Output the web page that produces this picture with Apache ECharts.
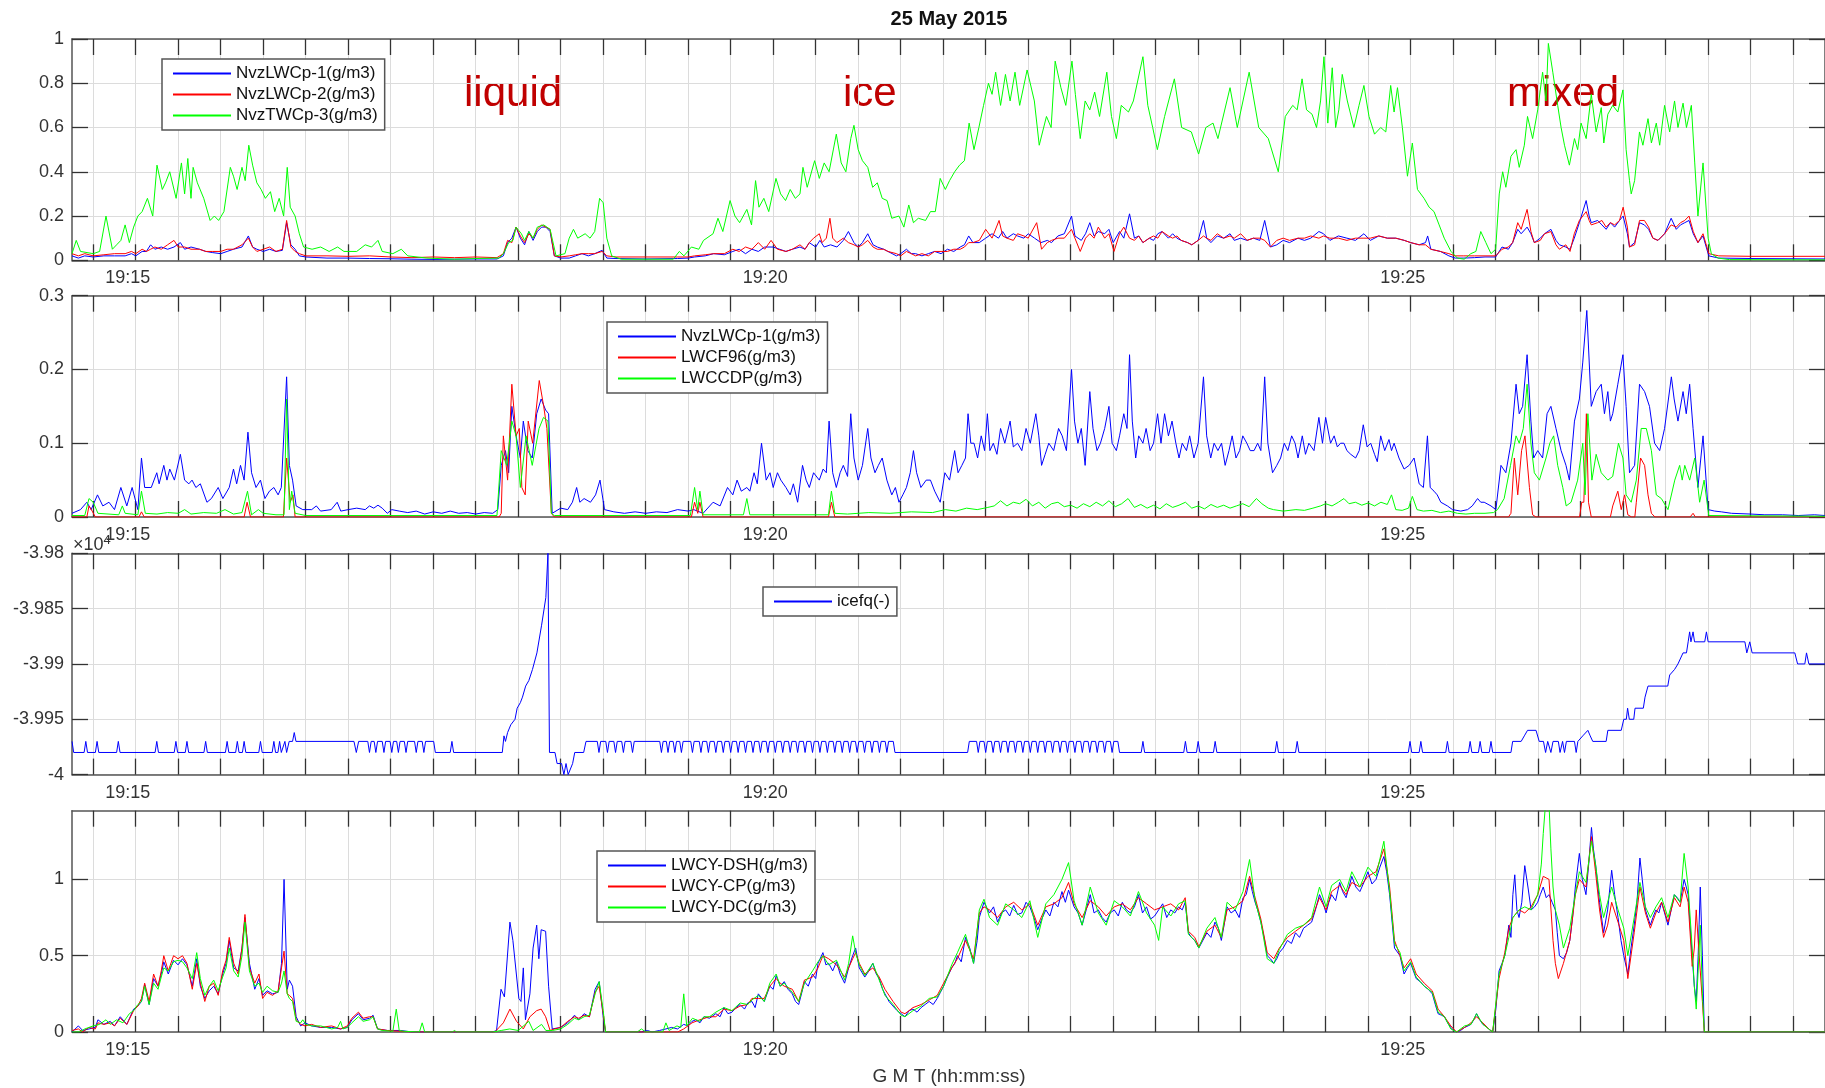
<!DOCTYPE html>
<html>
<head>
<meta charset="utf-8">
<script src="https://cdn.jsdelivr.net/npm/echarts@6/dist/echarts.min.js"></script>
<style>html,body{margin:0;padding:0;background:#fff}#c{width:1825px;height:1088px}</style>
</head>
<body>
<div id="c"></div>
<script>
// time in seconds relative to 19:15:00
const xTickValues = [-20,0,20,40,60,80,100,120,140,160,180,200,220,240,260,280,300,320,340,360,380,400,420,440,460,480,500,520,540,560,580,600,620,640,660,680,700,720,740,760,780];
const xLabelValues = [0,300,600];

// Panel 1
const p1Blue = [[-30,0.02],[-27,0.01],[-24,0.02],[-20,0.015],[-15,0.02],[-10,0.02],[-5,0.02],[-2,0.03],[0,0.02],[3,0.04],[5,0.04],[7,0.07],[9,0.05],[12,0.06],[15,0.05],[18,0.06],[21,0.08],[23,0.05],[26,0.06],[30,0.05],[33,0.04],[36,0.035],[40,0.03],[43,0.04],[46,0.05],[50,0.06],[53,0.11],[55,0.06],[57,0.05],[60,0.04],[63,0.05],[66,0.04],[69,0.045],[71,0.17],[73,0.07],[75,0.05],[77,0.02],[80,0.015],[90,0.01],[100,0.01],[110,0.008],[120,0.007],[130,0.005],[140,0.004],[150,0.005],[160,0.006],[170,0.006],[173,0.02],[175,0.08],[177,0.1],[179,0.15],[181,0.1],[183,0.07],[185,0.13],[187,0.09],[189,0.13],[191,0.15],[193,0.15],[195,0.13],[197,0.02],[200,0.01],[204,0.01],[207,0.02],[210,0.03],[213,0.02],[216,0.03],[219.5,0.045],[221.7,0.01],[226,0.008],[240,0.006],[255,0.008],[260,0.01],[263,0.015],[268,0.02],[272,0.03],[277,0.025],[281,0.04],[284,0.05],[287,0.03],[290,0.05],[293,0.04],[296,0.06],[300,0.06],[303,0.05],[306,0.04],[309,0.05],[312.6,0.06],[315,0.05],[317,0.08],[320,0.06],[322,0.09],[324,0.06],[327,0.07],[330,0.06],[333,0.09],[335.4,0.13],[338,0.08],[340,0.06],[342,0.08],[344.5,0.12],[347,0.07],[349,0.06],[352,0.05],[354,0.04],[358,0.02],[360,0.03],[362.7,0.05],[365,0.03],[367,0.03],[370,0.02],[373,0.03],[376,0.04],[379,0.03],[382,0.05],[385,0.04],[388,0.06],[390,0.07],[392,0.11],[394,0.08],[397,0.08],[400,0.1],[403,0.12],[406,0.1],[408,0.13],[410,0.1],[413,0.12],[415,0.11],[418,0.1],[420,0.12],[423,0.1],[426,0.08],[429,0.09],[431,0.08],[434,0.11],[437,0.12],[440.4,0.2],[442,0.11],[445,0.09],[447,0.12],[449,0.17],[451,0.11],[453,0.13],[456,0.12],[458,0.14],[460,0.08],[463,0.13],[465,0.1],[467.7,0.21],[470,0.1],[472,0.11],[474,0.08],[477,0.1],[479,0.09],[481,0.12],[483,0.13],[486,0.1],[488,0.12],[490,0.1],[492,0.09],[495,0.08],[497,0.07],[500,0.09],[502.5,0.18],[504,0.1],[506,0.08],[509,0.11],[512,0.1],[515,0.12],[517,0.09],[520,0.1],[523,0.09],[526,0.1],[529,0.09],[531.3,0.18],[534,0.06],[537,0.07],[540,0.09],[543,0.08],[547,0.1],[550,0.09],[553,0.1],[556.8,0.13],[559,0.12],[562,0.09],[566,0.11],[570,0.1],[574,0.09],[578,0.12],[581,0.09],[585,0.11],[589,0.1],[593,0.1],[597,0.09],[600,0.08],[604,0.07],[607,0.08],[608,0.11],[609.5,0.05],[614,0.04],[618,0.02],[621,0.01],[625,0.01],[630,0.012],[635,0.015],[640,0.015],[643,0.06],[646,0.05],[648,0.08],[650.4,0.14],[652,0.12],[654.8,0.15],[656.6,0.12],[658.2,0.08],[661,0.1],[663,0.12],[666,0.14],[668.4,0.09],[670,0.07],[673,0.06],[675,0.05],[677,0.1],[679.4,0.17],[682.6,0.27],[684,0.2],[685,0.17],[688,0.18],[690,0.16],[692,0.14],[694,0.17],[696,0.15],[698.3,0.18],[700,0.2],[702,0.12],[703,0.06],[705.4,0.08],[707.7,0.17],[710,0.16],[712,0.14],[714,0.1],[716.4,0.09],[719.5,0.12],[722.6,0.19],[725,0.14],[727,0.16],[729,0.17],[731,0.18],[733,0.12],[735.2,0.08],[737.6,0.11],[740.3,0.02],[745,0.01],[760,0.008],[795,0.006]];
const p1Red = [[-30,0.03],[-27,0.02],[-24,0.03],[-20,0.02],[-15,0.025],[-10,0.03],[-5,0.03],[-2,0.04],[0,0.03],[3,0.05],[5,0.04],[7,0.05],[9,0.06],[12,0.05],[15,0.07],[18,0.09],[20,0.06],[23,0.06],[26,0.05],[30,0.05],[33,0.04],[36,0.04],[40,0.04],[43,0.05],[46,0.05],[50,0.07],[53,0.1],[55,0.06],[57,0.04],[60,0.05],[63,0.06],[66,0.04],[69,0.05],[71,0.18],[73,0.06],[75,0.04],[77,0.03],[80,0.02],[90,0.02],[100,0.018],[110,0.02],[120,0.015],[130,0.012],[140,0.015],[150,0.012],[160,0.015],[170,0.012],[173,0.03],[175,0.09],[177,0.08],[179,0.15],[181,0.11],[183,0.08],[185,0.12],[187,0.1],[189,0.14],[191,0.16],[193,0.15],[195,0.14],[197,0.02],[200,0.015],[204,0.02],[207,0.025],[210,0.03],[213,0.03],[216,0.03],[219.5,0.04],[221.7,0.02],[226,0.015],[240,0.015],[255,0.015],[260,0.015],[263,0.02],[268,0.025],[272,0.03],[277,0.03],[281,0.05],[284,0.04],[287,0.06],[290,0.05],[293,0.08],[296,0.05],[299,0.09],[302,0.05],[306,0.04],[309,0.05],[312.6,0.07],[315,0.05],[317,0.08],[319,0.1],[321.7,0.12],[323,0.08],[325,0.1],[326.7,0.19],[328,0.1],[330,0.08],[333,0.1],[335.4,0.08],[338,0.07],[340,0.06],[342,0.07],[344.5,0.09],[347,0.06],[349,0.05],[352,0.05],[354,0.04],[358,0.03],[360,0.02],[362.7,0.04],[365,0.03],[367,0.02],[370,0.03],[373,0.02],[376,0.04],[379,0.04],[382,0.04],[385,0.05],[388,0.05],[390,0.06],[392,0.08],[394,0.08],[397,0.09],[400,0.14],[403,0.1],[406.3,0.18],[408,0.11],[410,0.1],[413,0.09],[415,0.12],[418,0.11],[420,0.1],[424,0.17],[426.3,0.05],[429,0.08],[431,0.09],[434,0.1],[437,0.1],[440.4,0.14],[442,0.1],[444.5,0.04],[447,0.1],[449,0.12],[451,0.1],[453,0.15],[456,0.1],[458,0.12],[460.4,0.04],[463,0.12],[465,0.15],[467.7,0.1],[470,0.09],[472,0.11],[474,0.08],[477,0.1],[479,0.11],[481,0.1],[483,0.13],[486,0.11],[488,0.1],[490,0.11],[492,0.09],[495,0.08],[497,0.07],[500,0.09],[502.5,0.11],[504,0.1],[506,0.09],[509,0.12],[512,0.1],[515,0.11],[517,0.1],[520,0.12],[523,0.09],[526,0.1],[529,0.1],[531.3,0.09],[534,0.06],[537,0.09],[540,0.1],[543,0.09],[547,0.1],[550,0.1],[553,0.11],[556.8,0.1],[559,0.11],[562,0.1],[566,0.1],[570,0.09],[574,0.1],[578,0.1],[581,0.1],[585,0.11],[589,0.1],[593,0.1],[597,0.09],[600,0.08],[604,0.07],[607,0.07],[609.5,0.05],[614,0.04],[618,0.03],[621,0.02],[625,0.02],[630,0.02],[635,0.02],[640,0.02],[643,0.05],[646,0.06],[648,0.08],[650.4,0.17],[652,0.14],[654.8,0.23],[656.6,0.13],[658.2,0.08],[661,0.09],[663,0.12],[666,0.13],[668.4,0.07],[670,0.05],[673,0.07],[675,0.04],[677,0.12],[679.4,0.18],[682.6,0.22],[684,0.18],[685,0.16],[688,0.17],[690,0.18],[692,0.15],[694,0.17],[696,0.16],[698.3,0.18],[700,0.24],[702,0.15],[703,0.06],[705.4,0.07],[707.7,0.18],[710,0.18],[712,0.15],[714,0.1],[716.4,0.09],[719.5,0.12],[722.6,0.16],[725,0.15],[727,0.17],[729,0.18],[731,0.2],[733,0.13],[735.2,0.08],[737.6,0.12],[740.3,0.03],[745,0.02],[760,0.018],[795,0.018]];
const p1Green = [[-30,0.03],[-28,0.09],[-26,0.04],[-20,0.03],[-17,0.04],[-14,0.2],[-11,0.05],[-9,0.07],[-7,0.09],[-5,0.16],[-3,0.08],[-1,0.15],[1,0.2],[3,0.22],[5.5,0.28],[8,0.2],[10,0.43],[12.5,0.32],[14,0.35],[16,0.4],[19,0.28],[21.5,0.44],[23,0.3],[24.5,0.46],[26,0.28],[27,0.42],[29,0.35],[32,0.28],[35,0.18],[37,0.2],[39,0.18],[41.5,0.22],[44.5,0.42],[46,0.38],[47.7,0.32],[50,0.42],[51.5,0.36],[53.2,0.52],[55,0.43],[57,0.35],[59,0.32],[61,0.28],[63.4,0.31],[65.4,0.22],[67.5,0.28],[69.6,0.2],[71.3,0.42],[72.7,0.24],[75,0.2],[77,0.12],[79,0.06],[83,0.05],[87,0.06],[91,0.04],[95,0.06],[98,0.04],[104,0.04],[108,0.07],[111,0.06],[114,0.09],[116,0.04],[121,0.03],[125,0.05],[128,0.02],[137,0.01],[150,0.005],[160,0.008],[171,0.01],[173,0.03],[175.5,0.08],[177.5,0.09],[179,0.15],[181.5,0.12],[183,0.09],[185,0.13],[187,0.1],[189,0.15],[192,0.16],[195,0.14],[197.8,0.02],[202,0.03],[204,0.1],[206,0.14],[208,0.1],[211.5,0.12],[213.8,0.1],[216,0.13],[218.3,0.28],[220,0.26],[221.7,0.1],[224,0.02],[228.5,0.005],[253,0.005],[255.8,0.04],[258,0.02],[261.5,0.06],[265,0.05],[267.2,0.09],[271.7,0.12],[274,0.19],[276.3,0.13],[279.7,0.27],[282,0.2],[284.2,0.17],[287.6,0.23],[289.8,0.16],[291.7,0.36],[293.3,0.24],[295.6,0.28],[297.9,0.22],[301.3,0.37],[303.5,0.3],[305.8,0.27],[308,0.32],[310.4,0.28],[312.6,0.3],[314,0.42],[316,0.33],[319.5,0.45],[321.7,0.37],[324,0.44],[326.3,0.4],[329.7,0.57],[332,0.44],[334.2,0.4],[336.5,0.55],[338,0.61],[340,0.5],[342,0.45],[344.5,0.42],[346.8,0.33],[349,0.35],[351.3,0.28],[353.6,0.27],[355.8,0.19],[359.2,0.2],[361.5,0.15],[363.8,0.25],[366,0.17],[368.3,0.19],[371.7,0.18],[374,0.22],[376.3,0.22],[378.6,0.37],[381,0.32],[383,0.36],[385.4,0.4],[387.7,0.43],[390,0.45],[392.2,0.62],[394.5,0.5],[396.8,0.6],[399,0.7],[401.3,0.8],[403,0.75],[404.7,0.85],[407,0.7],[409.3,0.84],[411.5,0.72],[413.8,0.85],[416,0.7],[419.5,0.86],[422.9,0.72],[425.2,0.52],[428.6,0.65],[430.8,0.6],[432.7,0.9],[435.4,0.78],[437.7,0.7],[440.6,0.9],[442.2,0.75],[444.5,0.55],[446.8,0.72],[449,0.68],[451.3,0.76],[453.6,0.65],[457,0.85],[459.2,0.65],[461.5,0.55],[463.8,0.7],[467.2,0.67],[469.5,0.72],[474,0.92],[476.3,0.7],[478.6,0.6],[480.8,0.5],[484.2,0.65],[488.8,0.82],[492.2,0.6],[496.8,0.58],[500.2,0.48],[503.6,0.6],[507,0.62],[509.3,0.55],[515,0.78],[518.4,0.6],[524,0.85],[528.5,0.6],[533,0.55],[537.7,0.4],[541,0.65],[544.5,0.7],[546.6,0.68],[548.9,0.82],[551,0.68],[553.6,0.66],[555.7,0.6],[557.6,0.72],[559.2,0.92],[561,0.62],[563.1,0.87],[564.7,0.6],[566.2,0.68],[567.8,0.84],[570.2,0.72],[573.3,0.6],[575.7,0.7],[578,0.79],[580.4,0.65],[583,0.57],[585.9,0.6],[588.3,0.58],[590.6,0.79],[592.2,0.67],[593.8,0.78],[596.1,0.6],[598.5,0.38],[600.8,0.53],[603.2,0.32],[606.3,0.28],[608.7,0.24],[611,0.22],[613.4,0.16],[615.8,0.1],[619,0.04],[622,0.01],[625.2,0.005],[628.3,0.03],[630.7,0.04],[633,0.13],[635.4,0.08],[637.8,0.03],[640,0.05],[641.7,0.3],[643.3,0.4],[644.8,0.33],[647.2,0.47],[649.6,0.5],[651.1,0.42],[653.5,0.52],[655,0.65],[657.4,0.55],[659.8,0.68],[662.1,0.85],[663.7,0.72],[664.8,0.98],[666.9,0.85],[669.2,0.7],[670.8,0.6],[672.4,0.52],[674.7,0.43],[677.1,0.55],[678.6,0.5],[680.2,0.62],[682.6,0.55],[685,0.75],[687.3,0.58],[689.7,0.69],[690.9,0.53],[692.8,0.66],[695.1,0.7],[697.5,0.67],[699.9,0.77],[701.4,0.5],[703,0.36],[703.8,0.3],[705.4,0.36],[707.7,0.58],[709.3,0.52],[711.7,0.64],[713.3,0.53],[715.6,0.62],[717.2,0.52],[719.5,0.7],[721.9,0.58],[724.2,0.72],[725.8,0.6],[728.2,0.71],[729.8,0.6],[732.1,0.7],[733.7,0.44],[735.2,0.2],[737.6,0.44],[740,0.1],[741.5,0.03],[744.7,0.01],[750,0.003],[795,0.002]];

// Panel 2
const p2Blue = [[-30,0.005],[-26,0.01],[-23,0.02],[-21,0.01],[-18,0.03],[-15.5,0.015],[-12.6,0.02],[-10,0.01],[-7,0.04],[-4.2,0.015],[-1.7,0.04],[1,0.01],[2.7,0.08],[4.2,0.04],[7.3,0.04],[9.9,0.06],[11,0.045],[13.2,0.07],[14.7,0.05],[16,0.065],[18.2,0.05],[21,0.085],[23,0.05],[25,0.045],[26.5,0.05],[28.3,0.04],[30.4,0.045],[33.5,0.02],[35.6,0.025],[38.8,0.04],[41,0.025],[44,0.04],[46,0.065],[47.5,0.045],[49.3,0.07],[51,0.05],[52.8,0.115],[54.5,0.06],[56.6,0.04],[58.7,0.05],[60.8,0.025],[62.9,0.035],[65,0.04],[67,0.03],[68.5,0.04],[71,0.19],[72.3,0.07],[73.8,0.05],[75.5,0.015],[78.6,0.01],[82.8,0.01],[85,0.015],[87,0.008],[92,0.01],[94.8,0.02],[96.5,0.008],[100,0.01],[104,0.012],[108,0.01],[110,0.015],[112,0.012],[114,0.016],[116,0.012],[118.4,0.005],[120.5,0.01],[124,0.008],[128,0.006],[132,0.008],[136,0.004],[140,0.007],[144,0.005],[148,0.008],[152,0.005],[156,0.006],[160,0.004],[164,0.006],[168,0.005],[170.4,0.01],[172,0.07],[174,0.09],[175.5,0.06],[177,0.15],[179,0.11],[181,0.08],[182.4,0.13],[184.5,0.09],[186.6,0.08],[188.7,0.14],[190.8,0.16],[192.9,0.145],[194.3,0.14],[196,0.005],[200,0.012],[203.3,0.01],[205.5,0.02],[207.5,0.04],[209,0.02],[211,0.025],[214,0.02],[216.4,0.03],[218.5,0.05],[220.6,0.01],[225,0.007],[230,0.005],[235,0.007],[240,0.005],[245,0.007],[250,0.006],[255,0.01],[260,0.008],[262.6,0.01],[267,0.005],[271.7,0.02],[275,0.015],[278.5,0.04],[281,0.03],[283,0.05],[285,0.035],[287.6,0.04],[289,0.035],[291,0.06],[292.5,0.045],[294.5,0.1],[296.7,0.05],[298.5,0.06],[300,0.04],[302,0.06],[303.6,0.05],[306,0.04],[308,0.03],[309.5,0.045],[311.5,0.02],[313.8,0.07],[315.5,0.05],[317,0.04],[319,0.06],[321.7,0.05],[323.5,0.065],[325,0.06],[326.3,0.13],[328,0.06],[329.7,0.04],[331.5,0.06],[333,0.07],[335,0.055],[336.5,0.14],[338,0.08],[340,0.05],[342,0.07],[344.5,0.12],[346,0.08],[347.9,0.06],[349.5,0.07],[351.3,0.08],[353.5,0.05],[355.8,0.03],[357.5,0.04],[359.2,0.02],[361,0.03],[362.7,0.04],[364.5,0.06],[366,0.09],[367.5,0.06],[369.5,0.04],[372,0.05],[374,0.05],[376,0.035],[378.6,0.02],[380.8,0.06],[383,0.05],[385.4,0.09],[387,0.06],[388.8,0.07],[390.5,0.08],[391.7,0.14],[393,0.1],[394.5,0.1],[396.2,0.08],[397.9,0.11],[399.5,0.09],[400.8,0.14],[402,0.09],[403.6,0.1],[405.3,0.085],[407,0.12],[409,0.1],[411.5,0.13],[413,0.095],[415,0.1],[417,0.09],[419,0.12],[421,0.1],[423.6,0.14],[425,0.11],[426.3,0.07],[428,0.085],[429.7,0.1],[432,0.09],[434.3,0.12],[436,0.11],[438,0.09],[440.4,0.2],[441.8,0.13],[443.4,0.1],[445,0.12],[446.8,0.07],[449,0.17],[450.5,0.12],[452.4,0.09],[454,0.1],[456,0.12],[458,0.15],[459.5,0.1],[461.5,0.09],[463,0.11],[465,0.14],[466.5,0.12],[467.7,0.22],[469,0.13],[470.6,0.08],[472,0.11],[474,0.1],[475.5,0.12],[477.4,0.09],[479,0.1],[480.9,0.14],[482.5,0.1],[484.2,0.14],[486,0.11],[487.7,0.13],[489.5,0.1],[491,0.08],[492.5,0.1],[494.5,0.09],[496,0.11],[498,0.08],[500,0.1],[502.5,0.19],[504,0.11],[505.9,0.08],[507.5,0.1],[509.3,0.09],[511,0.1],[512.7,0.07],[514.5,0.09],[516,0.11],[517.8,0.08],[519.5,0.09],[521,0.11],[522.9,0.1],[524.5,0.09],[526.3,0.09],[528,0.1],[529.5,0.09],[531.3,0.19],[532.8,0.1],[535,0.06],[537,0.07],[538.8,0.08],[540.5,0.1],[542.2,0.09],[544,0.11],[545.6,0.1],[547,0.08],[549,0.11],[550.5,0.085],[552.1,0.1],[554.5,0.09],[556.8,0.135],[558.5,0.1],[560,0.135],[562.3,0.1],[564,0.11],[565.5,0.095],[567,0.1],[568.6,0.1],[570,0.09],[571.8,0.085],[574.1,0.08],[575.8,0.09],[577.7,0.125],[579.5,0.095],[581.2,0.1],[583,0.085],[584.3,0.075],[585.9,0.11],[587.8,0.09],[589.8,0.105],[591,0.09],[592.2,0.1],[594.5,0.08],[596.9,0.065],[599.3,0.07],[601.6,0.08],[604,0.045],[606,0.04],[607.9,0.11],[609.2,0.04],[611,0.035],[612.5,0.03],[614.2,0.02],[617.3,0.015],[619.7,0.01],[623.6,0.008],[626.8,0.01],[629,0.015],[631.5,0.025],[633,0.02],[634.6,0.02],[637.8,0.015],[640.1,0.01],[642.5,0.07],[644.8,0.06],[647.2,0.1],[649.6,0.18],[651.1,0.14],[652.7,0.15],[654.8,0.22],[656.6,0.13],[657.9,0.08],[659.8,0.09],[662.1,0.08],[664.2,0.14],[666,0.15],[668.4,0.12],[670.8,0.09],[673.1,0.07],[674.7,0.05],[677.1,0.13],[679.4,0.16],[681,0.21],[682.9,0.28],[685,0.15],[687.3,0.17],[689.7,0.18],[691.2,0.14],[692.8,0.17],[694,0.13],[695.1,0.14],[697.5,0.18],[699.9,0.22],[701.4,0.15],[703,0.06],[705.4,0.07],[707.7,0.18],[710.1,0.17],[712.4,0.15],[714.8,0.1],[717.2,0.09],[719.5,0.12],[722.7,0.19],[724,0.16],[725.8,0.13],[728.2,0.17],[729.7,0.14],[731.3,0.18],[732.9,0.12],[735.2,0.04],[737.6,0.11],[740,0.01],[743.1,0.008],[746.2,0.007],[751,0.005],[760,0.004],[766.7,0.003],[775,0.003],[782.4,0.002],[790,0.003],[795,0.002]];
const p2Red = [[-30,0],[-23,0],[-22,0.015],[-20.5,0.008],[-19,0],[1.5,0],[2.7,0.007],[4,0],[51,0],[52.4,0.02],[54,0],[69.5,0],[71,0.08],[72.7,0.02],[74,0.03],[75,0],[171,0],[172,0.005],[173,0.11],[175,0.05],[177,0.18],[179,0.11],[180.5,0.12],[181.7,0.04],[183.3,0.03],[184.7,0.13],[186.8,0.1],[189.9,0.185],[192,0.15],[193.5,0.12],[195.6,0.005],[197,0],[261.5,0],[263,0.02],[264.5,0.005],[265.5,0.02],[267,0],[326,0],[327.4,0.02],[329,0],[646,0],[647.2,0.005],[648.8,0.08],[650.4,0.03],[652.2,0.09],[653.8,0.11],[655.9,0.04],[657.4,0.003],[659,0],[679.5,0],[680.5,0.02],[681.5,0.02],[682.7,0.14],[683.7,0.02],[685,0],[694,0],[695.1,0.015],[697.5,0.035],[699.1,0.01],[700.7,0.03],[702.2,0.003],[704,0],[705.5,0],[706.2,0.02],[708.2,0.08],[710.1,0.07],[711.7,0.03],[713.3,0.005],[715,0],[731.5,0],[732.9,0.005],[734,0],[795,0]];
const p2Green = [[-30,0.002],[-24,0.002],[-22,0.025],[-20,0.02],[-17.8,0.005],[-8,0.003],[-6.3,0.015],[-5,0.005],[1,0.003],[2.7,0.035],[4.5,0.005],[10,0.004],[15,0.006],[20,0.005],[23,0.01],[26,0.004],[32,0.006],[38,0.005],[42,0.01],[46,0.004],[50,0.006],[52.6,0.035],[54.5,0.003],[57.7,0.01],[60,0.005],[66,0.003],[69.8,0.003],[71,0.16],[72.3,0.01],[73.4,0.035],[75,0.005],[80,0.002],[170,0.002],[172,0.09],[174.6,0.07],[177,0.13],[179,0.11],[181,0.04],[183.7,0.11],[186.6,0.07],[189.8,0.12],[191.9,0.135],[194,0.13],[195.6,0.005],[197,0.002],[261,0.002],[263,0.04],[264.5,0.01],[265.5,0.035],[267,0.003],[286,0.003],[287.6,0.025],[289,0.003],[326,0.003],[327.4,0.035],[329,0.005],[335,0.004],[345,0.006],[355,0.005],[365,0.007],[375,0.006],[381,0.01],[386,0.008],[391,0.012],[396,0.01],[401,0.013],[404,0.015],[407,0.022],[410,0.015],[413,0.02],[416,0.018],[419,0.024],[422,0.015],[425,0.02],[428,0.012],[431,0.018],[434,0.02],[437,0.014],[440,0.016],[443,0.012],[446,0.018],[449,0.014],[452,0.02],[455,0.015],[458,0.022],[461,0.014],[464,0.018],[467,0.025],[470,0.013],[473,0.017],[476,0.012],[479,0.016],[482,0.011],[485,0.018],[488,0.013],[491,0.016],[494,0.02],[497,0.012],[500,0.015],[503,0.011],[506,0.017],[509,0.013],[512,0.016],[515,0.012],[518,0.015],[521,0.018],[524,0.014],[527.4,0.025],[530,0.018],[533,0.012],[535.4,0.01],[540,0.008],[546,0.01],[550,0.009],[554,0.012],[557.6,0.015],[560,0.018],[563,0.015],[566,0.02],[568.6,0.025],[571,0.018],[574,0.02],[577,0.016],[580,0.019],[583,0.015],[586,0.02],[589,0.017],[591,0.03],[593,0.01],[596,0.009],[599,0.012],[600.8,0.028],[603,0.01],[606,0.008],[610,0.009],[614,0.006],[618,0.008],[622,0.005],[626,0.004],[630,0.005],[635,0.005],[639,0.006],[640.9,0.01],[644,0.025],[647,0.07],[649.6,0.11],[651.1,0.1],[653,0.12],[654.8,0.18],[656.6,0.1],[658.2,0.06],[660.6,0.05],[663.7,0.08],[665.5,0.1],[667.3,0.11],[669.2,0.07],[671.6,0.04],[673.2,0.015],[675.5,0.02],[678.6,0.05],[681,0.1],[682.1,0.03],[683.4,0.14],[685.3,0.05],[687.3,0.085],[689.7,0.06],[692.8,0.05],[695.1,0.055],[697.8,0.1],[699.9,0.08],[701.4,0.03],[703.8,0.02],[706.2,0.05],[708.5,0.12],[710.9,0.12],[713.3,0.09],[715.6,0.03],[718,0.025],[721.1,0.01],[724.3,0.05],[726.6,0.07],[727.8,0.05],[729,0.07],[731.3,0.05],[733.7,0.08],[736,0.02],[738.1,0.05],[740.3,0.002],[795,0.001]];

// Panel 3
const p3Ice = [[-30,-3.997],[-29.2,-3.998],[-24.3,-3.998],[-23.5,-3.997],[-22.7,-3.998],[-19,-3.998],[-18.2,-3.997],[-17.4,-3.998],[-9,-3.998],[-8.2,-3.997],[-7.4,-3.998],[9.1,-3.998],[9.9,-3.997],[10.7,-3.998],[18.1,-3.998],[18.9,-3.997],[19.7,-3.998],[23.3,-3.998],[24.1,-3.997],[24.9,-3.998],[32.1,-3.998],[32.9,-3.997],[33.7,-3.998],[42.2,-3.998],[43,-3.997],[43.8,-3.998],[47,-3.998],[47.8,-3.997],[48.6,-3.998],[50.2,-3.998],[51,-3.997],[51.8,-3.998],[57.9,-3.998],[58.7,-3.997],[59.5,-3.998],[64.2,-3.998],[65,-3.997],[65.8,-3.998],[66.9,-3.998],[67.7,-3.997],[68.5,-3.998],[69.4,-3.998],[70.2,-3.997],[71,-3.998],[71.4,-3.998],[72.2,-3.997],[73.8,-3.997],[74.6,-3.9962],[75.4,-3.997],[102.7,-3.997],[103.8,-3.998],[104.9,-3.997],[109.2,-3.997],[110,-3.998],[110.8,-3.997],[112.2,-3.997],[113,-3.998],[113.8,-3.997],[116,-3.997],[116.8,-3.998],[117.6,-3.997],[119.7,-3.997],[120.5,-3.998],[121.3,-3.997],[122.8,-3.997],[123.6,-3.998],[124.4,-3.997],[126.4,-3.997],[127.2,-3.998],[128,-3.997],[131.2,-3.997],[132,-3.998],[132.8,-3.997],[134.8,-3.997],[135.6,-3.998],[136.4,-3.997],[140.2,-3.997],[141,-3.998],[148,-3.998],[148.8,-3.997],[149.6,-3.998],[172.5,-3.998],[173.3,-3.9965],[174,-3.997],[175,-3.9962],[176.5,-3.9955],[178.5,-3.995],[179.5,-3.994],[181,-3.9935],[182,-3.993],[183.5,-3.992],[185,-3.9915],[186.7,-3.9905],[188.8,-3.989],[191,-3.9865],[193,-3.984],[194,-3.98],[194.7,-3.998],[197.3,-3.998],[198.3,-3.999],[200.4,-3.999],[201.5,-4],[202.5,-3.999],[203.5,-4],[205.6,-3.999],[206.6,-3.998],[210.8,-3.998],[211.9,-3.997],[217.2,-3.997],[218,-3.998],[218.8,-3.997],[221.2,-3.997],[222,-3.998],[222.8,-3.997],[225,-3.997],[225.8,-3.998],[226.6,-3.997],[228.7,-3.997],[229.5,-3.998],[230.3,-3.997],[233,-3.997],[233.8,-3.998],[234.6,-3.997],[246.6,-3.997],[247.4,-3.998],[248.2,-3.997],[249.7,-3.997],[250.5,-3.998],[251.3,-3.997],[252.9,-3.997],[253.7,-3.998],[254.5,-3.997],[256,-3.997],[256.8,-3.998],[257.6,-3.997],[261.2,-3.997],[262,-3.998],[262.8,-3.997],[265.2,-3.997],[266,-3.998],[266.8,-3.997],[268.7,-3.997],[269.5,-3.998],[270.3,-3.997],[272.2,-3.997],[273,-3.998],[273.8,-3.997],[275.7,-3.997],[276.5,-3.998],[277.3,-3.997],[279.2,-3.997],[280,-3.998],[280.8,-3.997],[282.7,-3.997],[283.5,-3.998],[284.3,-3.997],[286.2,-3.997],[287,-3.998],[287.8,-3.997],[289.7,-3.997],[290.5,-3.998],[291.3,-3.997],[293.2,-3.997],[294,-3.998],[294.8,-3.997],[296.7,-3.997],[297.5,-3.998],[298.3,-3.997],[300.2,-3.997],[301,-3.998],[301.8,-3.997],[303.7,-3.997],[304.5,-3.998],[305.3,-3.997],[307.2,-3.997],[308,-3.998],[308.8,-3.997],[310.7,-3.997],[311.5,-3.998],[312.3,-3.997],[314.2,-3.997],[315,-3.998],[315.8,-3.997],[317.7,-3.997],[318.5,-3.998],[319.3,-3.997],[321.2,-3.997],[322,-3.998],[322.8,-3.997],[324.7,-3.997],[325.5,-3.998],[326.3,-3.997],[328.2,-3.997],[329,-3.998],[329.8,-3.997],[331.7,-3.997],[332.5,-3.998],[333.3,-3.997],[335.2,-3.997],[336,-3.998],[336.8,-3.997],[338.7,-3.997],[339.5,-3.998],[340.3,-3.997],[342.2,-3.997],[343,-3.998],[343.8,-3.997],[345.7,-3.997],[346.5,-3.998],[347.3,-3.997],[349.2,-3.997],[350,-3.998],[350.8,-3.997],[352.7,-3.997],[353.5,-3.998],[354.3,-3.997],[356.5,-3.997],[357.3,-3.998],[391.5,-3.998],[392.3,-3.997],[395.7,-3.997],[396.5,-3.998],[397.3,-3.997],[399.2,-3.997],[400,-3.998],[400.8,-3.997],[402.7,-3.997],[403.5,-3.998],[404.3,-3.997],[406.2,-3.997],[407,-3.998],[407.8,-3.997],[409.7,-3.997],[410.5,-3.998],[411.3,-3.997],[413.2,-3.997],[414,-3.998],[414.8,-3.997],[416.7,-3.997],[417.5,-3.998],[418.3,-3.997],[420.2,-3.997],[421,-3.998],[421.8,-3.997],[423.7,-3.997],[424.5,-3.998],[425.3,-3.997],[427.2,-3.997],[428,-3.998],[428.8,-3.997],[430.7,-3.997],[431.5,-3.998],[432.3,-3.997],[434.2,-3.997],[435,-3.998],[435.8,-3.997],[437.7,-3.997],[438.5,-3.998],[439.3,-3.997],[441.2,-3.997],[442,-3.998],[442.8,-3.997],[444.7,-3.997],[445.5,-3.998],[446.3,-3.997],[448.2,-3.997],[449,-3.998],[449.8,-3.997],[451.7,-3.997],[452.5,-3.998],[453.3,-3.997],[455.2,-3.997],[456,-3.998],[456.8,-3.997],[458.7,-3.997],[459.5,-3.998],[460.3,-3.997],[462.2,-3.997],[463,-3.998],[473.2,-3.998],[474,-3.997],[474.8,-3.998],[493.2,-3.998],[494,-3.997],[494.8,-3.998],[499.2,-3.998],[500,-3.997],[500.8,-3.998],[507.2,-3.998],[508,-3.997],[508.8,-3.998],[536.2,-3.998],[537,-3.997],[537.8,-3.998],[545.8,-3.998],[546.6,-3.997],[547.4,-3.998],[598.9,-3.998],[599.7,-3.997],[600.5,-3.998],[604,-3.998],[604.8,-3.997],[605.6,-3.998],[616.5,-3.998],[617.3,-3.997],[618.1,-3.998],[627.2,-3.998],[628,-3.997],[628.8,-3.998],[631.9,-3.998],[632.7,-3.997],[633.5,-3.998],[637,-3.998],[637.8,-3.997],[638.6,-3.998],[647.2,-3.998],[648,-3.997],[652,-3.997],[653.5,-3.9965],[655,-3.996],[659,-3.996],[660.5,-3.997],[662.5,-3.997],[663.5,-3.998],[664.5,-3.997],[666,-3.998],[667,-3.997],[669.5,-3.997],[670.3,-3.998],[671.5,-3.997],[672.4,-3.998],[673.3,-3.997],[677.1,-3.997],[677.9,-3.998],[678.7,-3.997],[681,-3.9965],[683.4,-3.996],[684.5,-3.9965],[685.7,-3.997],[692,-3.997],[692.8,-3.996],[699.1,-3.996],[700.3,-3.995],[701.5,-3.995],[702.1,-3.994],[702.9,-3.995],[705,-3.995],[705.6,-3.994],[709.5,-3.994],[710.3,-3.993],[711.1,-3.993],[711.7,-3.992],[721,-3.992],[721.9,-3.991],[724.2,-3.9905],[725.8,-3.99],[728.2,-3.989],[729.8,-3.989],[730.6,-3.988],[731.3,-3.9871],[731.9,-3.988],[732.5,-3.988],[732.9,-3.9871],[733.6,-3.988],[738.4,-3.988],[739.2,-3.9871],[740,-3.988],[757.3,-3.988],[758.2,-3.989],[759.6,-3.988],[760.7,-3.989],[780.8,-3.989],[782.1,-3.99],[785.5,-3.99],[786.3,-3.989],[787.4,-3.99],[795,-3.99]];

// Panel 4
const p4Blue = [[-30,0],[-27,0.04],[-25,0.01],[-22,0.02],[-19,0.03],[-17.8,0.08],[-15,0.05],[-12,0.07],[-10,0.04],[-7.3,0.1],[-4.2,0.05],[-1,0.15],[1,0.17],[2.7,0.2],[4.2,0.31],[6.3,0.18],[8.4,0.35],[10.5,0.3],[12,0.38],[13.2,0.46],[15.3,0.38],[17.8,0.47],[19.9,0.44],[22,0.48],[24.1,0.44],[26.6,0.3],[28.7,0.48],[30.4,0.3],[32.5,0.22],[34.6,0.27],[36.7,0.3],[38.8,0.25],[40.9,0.38],[42.5,0.45],[44,0.6],[46.1,0.42],[48.2,0.4],[50,0.55],[51.4,0.75],[53.5,0.45],[56,0.28],[58,0.35],[59.7,0.24],[61.8,0.27],[64.4,0.25],[67,0.26],[68.6,0.45],[69.8,1.0],[71.3,0.28],[72.3,0.34],[73.8,0.3],[75.5,0.1],[77.6,0.04],[79.7,0.06],[82.8,0.04],[87,0.03],[92.2,0.03],[96.4,0.02],[99.6,0.03],[101.7,0.08],[104.8,0.12],[107,0.08],[110,0.09],[111.7,0.11],[113.8,0.02],[118.4,0.01],[124.7,0.01],[130,0],[168,0],[169.8,0.01],[171.9,0.28],[173.5,0.23],[176.1,0.72],[177.5,0.6],[180.3,0.22],[181.3,0.2],[182.4,0.42],[183.4,0.08],[185.5,0.25],[187,0.55],[188.7,0.7],[189.7,0.48],[190.8,0.67],[192.9,0.66],[194.3,0.3],[196,0.02],[200,0.03],[203.3,0.06],[206.5,0.11],[208.5,0.08],[211,0.12],[213.5,0.1],[216.2,0.28],[218.1,0.33],[220,0.1],[221.1,0],[238,0],[240.8,0.01],[243,0],[246.5,0.01],[249.5,0.02],[252.2,0.03],[255,0.02],[257.9,0.05],[259.8,0.04],[261.8,0.07],[263.6,0.08],[265.5,0.06],[267.4,0.1],[270,0.09],[273,0.12],[275,0.1],[276.8,0.16],[278.7,0.12],[280.6,0.13],[282.5,0.16],[284.4,0.18],[286.5,0.15],[288,0.19],[290,0.2],[291.5,0.16],[293,0.25],[295.8,0.2],[298.4,0.3],[300,0.28],[301.4,0.37],[303.3,0.3],[305.2,0.33],[307,0.28],[309,0.25],[310.5,0.2],[312,0.18],[313.5,0.26],[314.7,0.33],[316.5,0.3],[318.5,0.38],[320,0.35],[321.1,0.45],[323.4,0.52],[324.8,0.44],[326.1,0.45],[328,0.4],[329.8,0.46],[331.5,0.38],[333.6,0.32],[335.5,0.42],[337.4,0.5],[338.8,0.55],[340.5,0.42],[343.1,0.36],[345,0.4],[346.9,0.45],[348.5,0.38],[349.9,0.35],[351.5,0.28],[352.6,0.25],[354.5,0.2],[356.4,0.17],[358.3,0.14],[360.2,0.12],[362,0.1],[364,0.14],[365.8,0.15],[367.7,0.13],[369.6,0.16],[371.5,0.18],[373.4,0.2],[375.3,0.18],[377.2,0.22],[378.7,0.26],[380.2,0.3],[382,0.36],[384,0.42],[385.5,0.45],[386.7,0.5],[388.5,0.46],[390.5,0.62],[392.5,0.55],[394.3,0.45],[396,0.6],[397,0.75],[399.2,0.85],[401.8,0.78],[403.7,0.82],[405.6,0.72],[407.5,0.78],[409.4,0.8],[411.3,0.76],[413.2,0.83],[415,0.77],[417,0.78],[419,0.85],[420.8,0.82],[422.7,0.75],[424.5,0.67],[426.4,0.74],[428.3,0.8],[430.2,0.76],[432.1,0.85],[434,0.82],[435.9,0.92],[437.5,0.85],[439,0.93],[441.6,0.82],[443.5,0.78],[445.4,0.7],[447.3,0.8],[449.2,0.9],[451,0.78],[453,0.8],[454.8,0.75],[456.7,0.72],[458.6,0.78],[460.5,0.8],[462.4,0.76],[464.3,0.85],[466.2,0.8],[468.1,0.78],[470,0.82],[471.9,0.9],[473.8,0.78],[475.7,0.82],[477.6,0.74],[479.5,0.76],[481.4,0.8],[483.3,0.84],[485.2,0.75],[487.1,0.8],[489,0.78],[490.8,0.82],[492.5,0.8],[493.9,0.85],[495.4,0.65],[496.8,0.62],[498.4,0.6],[500.3,0.55],[502.2,0.6],[504.1,0.65],[506,0.62],[507.9,0.72],[509.5,0.68],[510.9,0.6],[512.2,0.7],[513.6,0.82],[515.5,0.78],[517.4,0.8],[519.3,0.75],[521.1,0.88],[522.6,0.9],[524.2,1.0],[525.5,0.92],[526.8,0.85],[528,0.8],[529.5,0.72],[531,0.62],[532.5,0.5],[534,0.48],[535.6,0.45],[537,0.48],[538.2,0.52],[540,0.55],[542,0.6],[543.9,0.58],[545.8,0.65],[547.7,0.62],[549.6,0.68],[551.5,0.7],[553.4,0.72],[555.2,0.8],[557.1,0.9],[558.7,0.85],[560.2,0.78],[561.5,0.85],[562.8,0.9],[564.7,0.86],[566.6,0.98],[568,0.92],[569.6,0.88],[571,0.95],[572.3,1.02],[574.2,0.95],[576.1,0.92],[578,0.98],[579.9,1.05],[581.8,0.97],[583.7,1.0],[585.5,1.08],[587.4,1.15],[588.7,1.05],[590.1,0.9],[592.4,0.55],[595,0.5],[596.9,0.38],[598.5,0.42],[600,0.45],[601.3,0.4],[602.6,0.35],[604.5,0.33],[606.4,0.3],[608.3,0.28],[610.2,0.25],[611.6,0.18],[612.9,0.12],[614.5,0.11],[615.9,0.1],[617.4,0.06],[618.9,0.03],[620.3,0.01],[621.6,0],[623.5,0.01],[625.4,0.03],[627,0.04],[628.4,0.05],[629.7,0.08],[631,0.12],[632.5,0.08],[634,0.05],[635.4,0.04],[636.7,0.02],[638.6,0],[640.1,0.15],[641.6,0.4],[643,0.45],[644.3,0.5],[645.3,0.6],[646.2,0.7],[647.2,0.62],[648.1,0.9],[649,1.03],[650,0.8],[651,0.75],[652.3,0.85],[653.7,1.09],[655.2,0.95],[656.7,0.8],[658.3,0.82],[659.8,0.85],[661,0.9],[662.4,0.95],[663.8,0.88],[665.1,0.9],[666.6,0.85],[668.1,0.8],[669,0.65],[670,0.5],[671.9,0.48],[673.4,0.52],[674.9,0.6],[676.2,0.75],[677.5,0.95],[679.4,1.17],[680.8,1.0],[682.5,0.9],[683.8,1.1],[685.1,1.34],[686,1.2],[687,1.1],[688.9,0.85],[690.8,0.65],[692.7,0.8],[694.6,1.06],[696,0.9],[697.6,0.75],[699,0.6],[700.3,0.5],[702.2,0.38],[703.7,0.55],[705.2,0.7],[706.5,0.85],[707.9,1.14],[709,1.0],[710.5,0.8],[712.8,0.7],[714,0.75],[715.4,0.8],[716.8,0.78],[718.1,0.85],[719.5,0.78],[721.1,0.7],[722.6,0.8],[724.1,0.9],[725.5,0.88],[726.8,0.85],[728.7,1.0],[729.7,0.95],[730.6,0.9],[731.5,0.7],[732.5,0.5],[733.5,0.3],[734.4,0.2],[735.3,0.5],[736.3,0.95],[737.3,0.5],[738.2,0],[795,0]];
const p4Red = [[-30,0.01],[-27,0.02],[-25,0.0],[-22,0.03],[-19,0.02],[-17.8,0.06],[-15,0.05],[-12,0.06],[-10,0.04],[-7.3,0.09],[-4.2,0.05],[-1,0.14],[1,0.17],[2.7,0.22],[4.2,0.32],[6.3,0.2],[8.4,0.38],[10.5,0.3],[12,0.4],[13.2,0.5],[15.3,0.4],[17.8,0.5],[19.9,0.48],[22,0.5],[24.1,0.45],[26.6,0.28],[28.7,0.45],[30.4,0.32],[32.5,0.2],[34.6,0.3],[36.7,0.32],[38.8,0.24],[40.9,0.4],[42.5,0.47],[44,0.62],[46.1,0.45],[48.2,0.38],[50,0.55],[51.4,0.77],[53.5,0.42],[56,0.32],[58,0.38],[59.7,0.22],[61.8,0.26],[64.4,0.24],[67,0.27],[68.6,0.42],[69.8,0.53],[71.3,0.25],[72.3,0.24],[73.8,0.22],[75.5,0.08],[77.6,0.05],[79.7,0.04],[82.8,0.05],[87,0.03],[92.2,0.04],[96.4,0.02],[99.6,0.04],[101.7,0.09],[104.8,0.13],[107,0.09],[110,0.1],[111.7,0.1],[113.8,0.02],[118.4,0.01],[124.7,0.005],[130,0],[169,0],[171,0.03],[173,0.06],[176.1,0.15],[179.2,0.07],[182.4,0.02],[185.5,0.1],[188.7,0.14],[190.8,0.15],[192.9,0.1],[195,0.01],[197,0.02],[200,0.03],[203.3,0.07],[206.5,0.1],[208.5,0.09],[211,0.11],[213.5,0.1],[216.2,0.26],[218.1,0.3],[220,0.12],[221.1,0],[255,0],[257.9,0.02],[261.8,0.06],[265.5,0.08],[270,0.1],[273,0.1],[276.8,0.15],[280.6,0.14],[284.4,0.17],[288,0.18],[290,0.22],[293,0.22],[295.8,0.22],[298.4,0.3],[301.4,0.35],[303.3,0.32],[305.2,0.3],[309,0.28],[312,0.2],[314.7,0.34],[318.5,0.36],[321.1,0.42],[323.4,0.5],[326.1,0.48],[329.8,0.44],[333.6,0.36],[337.4,0.48],[338.8,0.52],[340.5,0.45],[343.1,0.38],[346.9,0.42],[349.9,0.36],[352.6,0.28],[356.4,0.2],[360.2,0.13],[362,0.12],[365.8,0.16],[369.6,0.18],[373.4,0.21],[377.2,0.24],[380.2,0.32],[384,0.42],[386.7,0.48],[390.5,0.6],[394.3,0.48],[397,0.78],[399.2,0.82],[401.8,0.8],[405.6,0.75],[409.4,0.82],[413.2,0.85],[417,0.8],[420.8,0.84],[424.5,0.7],[428.3,0.82],[432.1,0.84],[435.9,0.88],[439,0.98],[441.6,0.84],[445.4,0.75],[449.2,0.86],[453,0.82],[456.7,0.76],[460.5,0.82],[464.3,0.84],[468.1,0.8],[471.9,0.88],[475.7,0.84],[479.5,0.8],[483.3,0.82],[487.1,0.84],[490.8,0.8],[493.9,0.88],[495.4,0.66],[498.4,0.62],[500.3,0.56],[504.1,0.66],[507.9,0.7],[510.9,0.62],[513.6,0.8],[517.4,0.82],[521.1,0.86],[524.2,1.02],[526.8,0.88],[529.5,0.74],[532.5,0.52],[535.6,0.48],[538.2,0.55],[542,0.62],[545.8,0.66],[549.6,0.7],[553.4,0.74],[557.1,0.88],[560.2,0.8],[562.8,0.92],[566.6,0.96],[569.6,0.9],[572.3,0.98],[576.1,0.95],[579.9,1.02],[583.7,1.05],[587.4,1.2],[590.1,0.95],[592.4,0.6],[595,0.5],[596.9,0.42],[600,0.48],[602.6,0.38],[606.4,0.32],[610.2,0.27],[612.9,0.15],[615.9,0.1],[618.9,0.04],[621.6,0],[625.4,0.03],[628.4,0.06],[631,0.1],[634,0.06],[636.7,0.02],[638.6,0],[641.6,0.35],[644.3,0.52],[646.2,0.68],[648.1,0.75],[651,0.8],[653.7,0.78],[656.7,0.82],[659.8,0.9],[662.4,1.02],[665.1,1.0],[667,0.6],[668.1,0.45],[669.5,0.35],[671.9,0.45],[674.9,0.6],[677.5,0.9],[679.4,1.0],[682.5,0.95],[685.1,1.28],[687,1.05],[688.9,0.8],[690.8,0.62],[692.7,0.7],[694.6,0.85],[697.6,0.72],[700.3,0.6],[702.2,0.35],[705.2,0.65],[707.9,0.95],[710.5,0.78],[712.8,0.68],[715.4,0.78],[718.1,0.85],[721.1,0.72],[724.1,0.88],[726.8,0.82],[728.7,0.95],[730.6,0.85],[732.5,0.43],[733.5,0.55],[734.4,0.8],[735.3,0.6],[736.3,0.4],[737.3,0.2],[738.2,0],[795,0]];
const p4Green = [[-30,0],[-26.6,0],[-24,0.02],[-20,0.04],[-17,0.05],[-14,0.08],[-12,0.05],[-9,0.08],[-6,0.06],[-3,0.12],[-1,0.14],[1,0.18],[2.7,0.2],[4.2,0.3],[6.3,0.18],[8.4,0.32],[10.5,0.28],[12,0.36],[13.2,0.42],[15.3,0.4],[17.8,0.46],[19.9,0.47],[22,0.46],[24.1,0.42],[26.6,0.35],[28.7,0.52],[30.4,0.35],[32.5,0.24],[34.6,0.3],[36.7,0.34],[38.8,0.27],[40.9,0.36],[42.5,0.42],[44,0.55],[46.1,0.4],[48.2,0.36],[50,0.5],[51.4,0.72],[53.5,0.4],[56,0.3],[58,0.32],[59.7,0.26],[61.8,0.3],[64.4,0.27],[67,0.26],[68.6,0.32],[69.8,0.4],[71.3,0.25],[72.3,0.22],[73.8,0.2],[75.5,0.07],[77.6,0.06],[78.6,0.08],[80,0.05],[82.8,0.04],[87,0.04],[92.2,0.02],[95,0.03],[96.4,0.07],[97.5,0.02],[99.6,0.03],[101.7,0.06],[104.8,0.1],[107,0.07],[110,0.08],[111.7,0.1],[113.8,0.02],[116,0.01],[121,0.005],[122.6,0.15],[124,0.01],[126,0.005],[133.5,0],[134.8,0.06],[136,0],[149,0],[150,0.01],[151,0],[168,0],[172,0.01],[176,0.02],[180,0.01],[185,0.07],[187,0.01],[191,0.05],[193,0.01],[196,0.01],[200,0.02],[203.3,0.05],[206.5,0.09],[208.5,0.08],[211,0.1],[213.5,0.11],[216.2,0.25],[218.1,0.33],[220,0.14],[221.1,0],[236,0],[238,0.02],[240,0],[248,0],[249.5,0.06],[251,0.01],[254.7,0.04],[256.5,0.03],[257.9,0.25],[259.3,0.04],[262,0.09],[265.5,0.07],[267.4,0.1],[270,0.1],[273,0.13],[276.8,0.16],[280.6,0.14],[284.4,0.19],[288,0.18],[290,0.21],[293,0.24],[295.8,0.2],[298.4,0.32],[301.4,0.38],[303.3,0.3],[305.2,0.32],[309,0.26],[312,0.2],[314.7,0.32],[318.5,0.4],[321.1,0.46],[323.4,0.5],[326.1,0.44],[329.8,0.47],[333.6,0.34],[335.5,0.45],[337.4,0.63],[338.8,0.52],[340.5,0.44],[343.1,0.37],[346.9,0.45],[349.9,0.34],[352.6,0.24],[356.4,0.18],[360.2,0.11],[362,0.1],[365.8,0.14],[369.6,0.17],[373.4,0.22],[377.2,0.23],[380.2,0.3],[384,0.44],[386.7,0.52],[390.5,0.64],[394.3,0.45],[397,0.8],[399.2,0.87],[401.8,0.75],[405.6,0.7],[409.4,0.84],[413.2,0.8],[417,0.75],[420.8,0.86],[424.5,0.62],[428.3,0.84],[432.1,0.9],[435.9,1.0],[439,1.11],[441.6,0.86],[445.4,0.7],[449.2,0.95],[453,0.78],[456.7,0.7],[460.5,0.86],[464.3,0.82],[468.1,0.76],[471.9,0.92],[475.7,0.78],[479.5,0.7],[481.4,0.6],[483.3,0.82],[487.1,0.76],[490.8,0.84],[493.9,0.86],[495.4,0.64],[498.4,0.6],[500.3,0.55],[504.1,0.68],[507.9,0.75],[510.9,0.62],[513.6,0.85],[517.4,0.8],[521.1,0.92],[524.2,1.13],[526.8,0.86],[529.5,0.72],[532.5,0.48],[535.6,0.45],[538.2,0.54],[542,0.64],[545.8,0.68],[549.6,0.7],[553.4,0.75],[557.1,0.95],[560.2,0.82],[562.8,0.96],[566.6,1.0],[569.6,0.92],[572.3,1.05],[576.1,0.95],[579.9,1.08],[583.7,1.02],[587.4,1.25],[590.1,0.92],[592.4,0.58],[595,0.52],[596.9,0.4],[600,0.46],[602.6,0.36],[606.4,0.3],[610.2,0.26],[612.9,0.13],[615.9,0.1],[618.9,0.02],[621.6,0],[625.4,0.04],[628.4,0.05],[631,0.12],[634,0.05],[636.7,0.02],[638.6,0],[641.6,0.38],[644.3,0.5],[646.2,0.62],[648.1,0.75],[651,0.8],[653.7,0.82],[656.7,0.8],[659.8,0.9],[661.5,1.1],[662.4,1.3],[663.5,1.5],[665.1,1.5],[666,1.2],[667,0.95],[668.1,0.8],[670,0.7],[671.9,0.55],[674.9,0.68],[677.5,0.9],[679.4,1.05],[682.5,0.98],[685.1,1.25],[687,1.1],[688.9,0.9],[690.8,0.75],[692.7,0.85],[694.6,0.95],[697.6,0.8],[700.3,0.68],[702.2,0.5],[705.2,0.75],[707.9,0.98],[710.5,0.82],[712.8,0.75],[715.4,0.82],[718.1,0.88],[721.1,0.75],[724.1,0.9],[726.8,0.85],[728.7,1.17],[730.6,0.95],[732.5,0.55],[733.5,0.3],[734.4,0.15],[735.3,0.4],[736.3,0.7],[737.3,0.25],[738.2,0],[795,0]];

const FONT = '"Liberation Sans", Arial, Helvetica, sans-serif';
const BLUE = '#0000ff', RED = '#ff0000', GREEN = '#00ff00';
const gridTops = [39, 295.7, 553.3, 810.7];
const gridH = 221.3;
const yConf = [
  {min:0, max:1, interval:0.2},
  {min:0, max:0.3, interval:0.1},
  {min:-4, max:-3.98, interval:0.005},
  {min:0, max:1.45, custom:[0,0.5,1]}
];

const grids = [], xAxes = [], yAxes = [];
gridTops.forEach((top, i) => {
  grids.push({left:72, right:-4, top:top, height:gridH, containLabel:false});
  const axLine = {onZero:false, lineStyle:{color:'#555', width:1.5}};
  const tick = {inside:true, length:16, customValues:xTickValues, lineStyle:{color:'#333', width:1.3}};
  xAxes.push({type:'value', gridIndex:i, position:'bottom', min:-30, max:795,
    axisLine:axLine, axisTick:tick,
    axisLabel:{customValues:xLabelValues, fontSize:18, color:'#333', fontFamily:FONT, margin:9, padding:[0,16,0,0],
      formatter:v => '19:' + String(15 + Math.round(v/60)).padStart(2,'0')},
    splitLine:{show:true, lineStyle:{color:'#dcdcdc', width:1}}});
  xAxes.push({type:'value', gridIndex:i, position:'top', min:-30, max:795,
    axisLine:axLine, axisTick:tick, axisLabel:{show:false}, splitLine:{show:false}});
  const yc = yConf[i];
  const ytick = {inside:true, length:16, lineStyle:{color:'#333', width:1.3}};
  const ylab = {fontSize:18, color:'#333', fontFamily:FONT, margin:8};
  if (yc.custom) { ytick.customValues = yc.custom; ylab.customValues = yc.custom; }
  const base = {type:'value', gridIndex:i, min:yc.min, max:yc.max};
  if (yc.interval) base.interval = yc.interval;
  yAxes.push(Object.assign({}, base, {position:'left', axisLine:axLine, axisTick:ytick, axisLabel:ylab,
    splitLine:{show:true, lineStyle:{color:'#dcdcdc', width:1}}}));
  yAxes.push(Object.assign({}, base, {position:'right', axisLine:axLine, axisTick:ytick, axisLabel:{show:false}, splitLine:{show:false}}));
});

function mk(name, data, color, gi) {
  return {type:'line', name:name, data:data, xAxisIndex:2*gi, yAxisIndex:2*gi, color:color,
    showSymbol:false, symbol:'none', lineStyle:{width:1, color:color}, clip:true, animation:false};
}
const series = [
  mk('NvzLWCp-1(g/m3)', p1Blue, BLUE, 0), mk('NvzLWCp-2(g/m3)', p1Red, RED, 0), mk('NvzTWCp-3(g/m3)', p1Green, GREEN, 0),
  mk('NvzLWCp-1(g/m3)', p2Blue, BLUE, 1), mk('LWCF96(g/m3)', p2Red, RED, 1), mk('LWCCDP(g/m3)', p2Green, GREEN, 1),
  mk('icefq(-)', p3Ice, BLUE, 2),
  mk('LWCY-DSH(g/m3)', p4Blue, BLUE, 3), mk('LWCY-CP(g/m3)', p4Red, RED, 3), mk('LWCY-DC(g/m3)', p4Green, GREEN, 3)
];

function lg(names, left, top) {
  return {data:names, orient:'vertical', left:left, top:top, icon:'rect', itemWidth:58, itemHeight:2, itemGap:0,
    padding:[4,7,4,11], borderColor:'#555', borderWidth:1.5, backgroundColor:'#fff', selectedMode:false,
    textStyle:{fontSize:17, color:'#111', fontFamily:FONT, lineHeight:21}};
}
const legends = [
  lg(['NvzLWCp-1(g/m3)','NvzLWCp-2(g/m3)','NvzTWCp-3(g/m3)'], 162, 59),
  lg(['NvzLWCp-1(g/m3)','LWCF96(g/m3)','LWCCDP(g/m3)'], 607, 322),
  lg(['icefq(-)'], 763, 587),
  lg(['LWCY-DSH(g/m3)','LWCY-CP(g/m3)','LWCY-DC(g/m3)'], 597, 851)
];

const chart = echarts.init(document.getElementById('c'), null, {renderer:'canvas'});
chart.setOption({
  animation:false,
  backgroundColor:'#fff',
  grid:grids, xAxis:xAxes, yAxis:yAxes, legend:legends, series:series,
  graphic:[
    {type:'text', x:949, y:19, style:{text:'25 May 2015', font:'bold 20px ' + FONT, fill:'#111', align:'center', verticalAlign:'middle'}},
    {type:'text', x:949, y:1077, style:{text:'G M T (hh:mm:ss)', font:'19px ' + FONT, fill:'#333', align:'center', verticalAlign:'middle'}},
    {type:'text', x:464, y:94, style:{text:'liquid', font:'42px ' + FONT, fill:'#c00000', verticalAlign:'middle'}},
    {type:'text', x:843, y:94, style:{text:'ice', font:'42px ' + FONT, fill:'#c00000', verticalAlign:'middle'}},
    {type:'text', x:1507, y:94, style:{text:'mixed', font:'42px ' + FONT, fill:'#c00000', verticalAlign:'middle'}},
    {type:'text', x:73, y:545, style:{text:'\u00d710{s|4}', font:'18px ' + FONT, fill:'#333', verticalAlign:'middle',
      rich:{s:{fontSize:13, fontFamily:FONT, fill:'#333', verticalAlign:'top', padding:[0,0,10,0]}}}}
  ]
});
</script>
</body>
</html>
